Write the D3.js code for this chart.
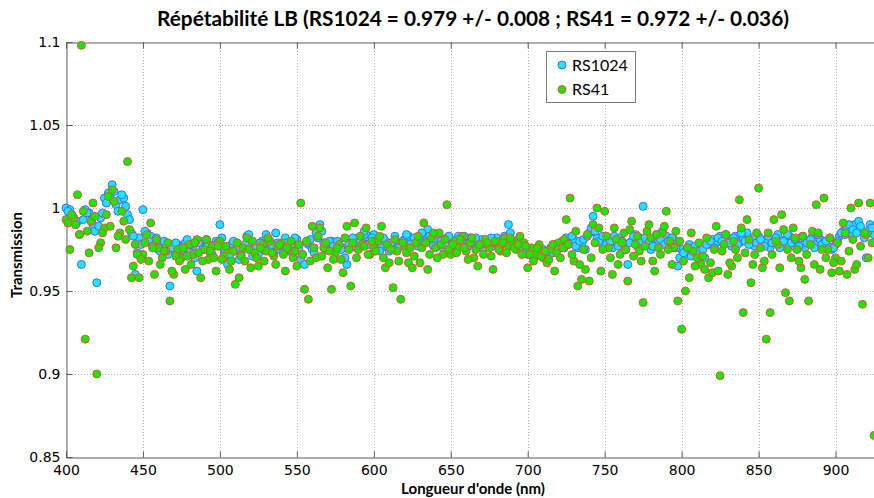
<!DOCTYPE html>
<html><head><meta charset="utf-8">
<script src="https://cdn.jsdelivr.net/npm/d3@7"></script>
<style>body{margin:0;background:#fff}svg{display:block}</style>
</head><body>
<script>
const wavelengths = [400,402.5,405,407.5,410,412.5,415,417.5,420,422.5,
425,427.5,430,432.5,435,437.5,440,442.5,445,447.5,
450,452.5,455,457.5,460,462.5,465,467.5,470,472.5,
475,477.5,480,482.5,485,487.5,490,492.5,495,497.5,
500,502.5,505,507.5,510,512.5,515,517.5,520,522.5,
525,527.5,530,532.5,535,537.5,540,542.5,545,547.5,
550,552.5,555,557.5,560,562.5,565,567.5,570,572.5,
575,577.5,580,582.5,585,587.5,590,592.5,595,597.5,
600,602.5,605,607.5,610,612.5,615,617.5,620,622.5,
625,627.5,630,632.5,635,637.5,640,642.5,645,647.5,
650,652.5,655,657.5,660,662.5,665,667.5,670,672.5,
675,677.5,680,682.5,685,687.5,690,692.5,695,697.5,
700,702.5,705,707.5,710,712.5,715,717.5,720,722.5,
725,727.5,730,732.5,735,737.5,740,742.5,745,747.5,
750,752.5,755,757.5,760,762.5,765,767.5,770,772.5,
775,777.5,780,782.5,785,787.5,790,792.5,795,797.5,
800,802.5,805,807.5,810,812.5,815,817.5,820,822.5,
825,827.5,830,832.5,835,837.5,840,842.5,845,847.5,
850,852.5,855,857.5,860,862.5,865,867.5,870,872.5,
875,877.5,880,882.5,885,887.5,890,892.5,895,897.5,
900,902.5,905,907.5,910,912.5,915,917.5,920,922.5,925];

const rs1024 = [1.000,0.999,0.994,0.992,0.966,0.999,0.997,0.990,0.955,0.994,
1.006,1.009,1.014,1.002,1.005,1.006,0.996,0.985,0.960,0.982,
0.999,0.985,0.983,0.979,0.975,0.977,0.978,0.953,0.975,0.978,
0.976,0.979,0.974,0.977,0.962,0.980,0.976,0.978,0.972,0.980,
0.990,0.975,0.966,0.978,0.974,0.969,0.977,0.983,0.975,0.978,
0.972,0.980,0.984,0.976,0.973,0.979,0.977,0.982,0.974,0.976,
0.981,0.969,0.966,0.978,0.975,0.985,0.990,0.979,0.977,0.980,
0.974,0.978,0.976,0.966,0.980,0.977,0.982,0.979,0.984,0.981,
0.984,0.978,0.976,0.980,0.974,0.977,0.975,0.979,0.981,0.983,
0.978,0.980,0.982,0.984,0.987,0.979,0.981,0.978,0.976,0.982,
0.980,0.977,0.983,0.980,0.978,0.982,0.979,0.976,0.981,0.978,
0.980,0.977,0.982,0.978,0.983,0.990,0.980,0.977,0.979,0.976,
0.972,0.974,0.971,0.973,0.975,0.972,0.976,0.978,0.977,0.980,
0.982,0.979,0.981,0.976,0.978,0.975,0.985,0.995,0.982,0.979,
0.981,0.977,0.976,0.979,0.982,0.978,0.966,0.980,0.984,0.982,
1.001,0.978,0.975,0.982,0.980,0.986,0.983,0.978,0.981,0.965,
0.975,0.972,0.978,0.974,0.976,0.973,0.970,0.978,0.981,0.979,
0.983,0.978,0.981,0.977,0.983,0.979,0.982,0.985,0.980,0.977,
0.983,0.979,0.981,0.976,0.980,0.984,0.978,0.981,0.983,0.977,
0.979,0.982,0.976,0.980,0.983,0.978,0.981,0.979,0.977,0.975,
0.978,0.983,0.986,0.988,0.984,0.990,0.992,0.986,0.970,0.990,0.984];

const rs41 = [0.993,0.975,0.994,1.008,1.098,0.921,0.973,1.003,0.900,0.979,
0.988,1.007,1.011,0.976,0.985,0.992,1.028,0.958,0.978,0.958,
0.972,0.984,0.991,0.960,0.976,0.970,0.974,0.944,0.960,0.975,
0.970,0.963,0.978,0.972,0.981,0.958,0.975,0.969,0.977,0.962,
0.980,0.971,0.975,0.968,0.954,0.958,0.976,0.982,0.964,0.973,
0.965,0.978,0.974,0.980,0.971,0.977,0.979,0.962,0.975,0.970,
0.965,1.003,0.951,0.945,0.989,0.970,0.988,0.976,0.964,0.951,
0.973,0.978,0.961,0.989,0.953,0.991,0.975,0.978,0.988,0.972,
0.976,0.980,0.989,0.964,0.967,0.952,0.974,0.945,0.977,0.967,
0.964,0.979,0.967,0.991,0.963,0.982,0.976,0.985,0.972,1.002,
0.972,0.980,0.976,0.983,0.974,0.979,0.970,0.965,0.978,0.981,
0.976,0.963,0.979,0.974,0.982,0.977,0.980,0.975,0.983,0.979,
0.964,0.976,0.972,0.978,0.970,0.967,0.975,0.962,0.979,0.976,
0.993,1.006,0.968,0.953,0.957,0.963,0.956,0.990,1.000,0.962,
0.998,0.976,0.960,0.981,0.972,0.985,0.956,0.992,0.978,0.974,
0.943,0.986,0.982,0.962,0.976,0.985,0.998,0.980,0.976,0.944,
0.927,0.950,0.958,0.974,0.970,0.966,0.963,0.958,0.961,0.989,
0.899,0.978,0.960,0.965,0.975,1.005,0.937,0.993,0.955,0.972,
1.012,0.964,0.921,0.937,0.993,0.978,0.996,0.949,0.944,0.988,
0.975,0.964,0.957,0.944,0.986,1.002,0.963,1.006,0.975,0.961,
0.970,0.962,0.991,0.960,1.000,0.963,1.003,0.942,0.984,1.003,0.863];

const wavelengthsMid = [401.25,403.75,406.25,408.75,411.25,413.75,416.25,418.75,421.25,423.75,
426.25,428.75,431.25,433.75,436.25,438.75,441.25,443.75,446.25,448.75,
451.25,453.75,456.25,458.75,461.25,463.75,466.25,468.75,471.25,473.75,
476.25,478.75,481.25,483.75,486.25,488.75,491.25,493.75,496.25,498.75,
501.25,503.75,506.25,508.75,511.25,513.75,516.25,518.75,521.25,523.75,
526.25,528.75,531.25,533.75,536.25,538.75,541.25,543.75,546.25,548.75,
551.25,553.75,556.25,558.75,561.25,563.75,566.25,568.75,571.25,573.75,
576.25,578.75,581.25,583.75,586.25,588.75,591.25,593.75,596.25,598.75,
601.25,603.75,606.25,608.75,611.25,613.75,616.25,618.75,621.25,623.75,
626.25,628.75,631.25,633.75,636.25,638.75,641.25,643.75,646.25,648.75,
651.25,653.75,656.25,658.75,661.25,663.75,666.25,668.75,671.25,673.75,
676.25,678.75,681.25,683.75,686.25,688.75,691.25,693.75,696.25,698.75,
701.25,703.75,706.25,708.75,711.25,713.75,716.25,718.75,721.25,723.75,
726.25,728.75,731.25,733.75,736.25,738.75,741.25,743.75,746.25,748.75,
751.25,753.75,756.25,758.75,761.25,763.75,766.25,768.75,771.25,773.75,
776.25,778.75,781.25,783.75,786.25,788.75,791.25,793.75,796.25,798.75,
801.25,803.75,806.25,808.75,811.25,813.75,816.25,818.75,821.25,823.75,
826.25,828.75,831.25,833.75,836.25,838.75,841.25,843.75,846.25,848.75,
851.25,853.75,856.25,858.75,861.25,863.75,866.25,868.75,871.25,873.75,
876.25,878.75,881.25,883.75,886.25,888.75,891.25,893.75,896.25,898.75,
901.25,903.75,906.25,908.75,911.25,913.75,916.25,918.75,921.25,923.75];

const rs1024Mid = [0.998,0.996,0.990,0.984,0.993,0.997,0.992,0.986,0.989,0.997,
1.003,1.007,1.010,0.998,1.008,1.001,0.993,0.983,0.973,0.978,
0.986,0.980,0.977,0.982,0.974,0.980,0.972,0.976,0.979,0.973,
0.975,0.981,0.978,0.970,0.979,0.975,0.981,0.973,0.977,0.979,
0.982,0.974,0.971,0.980,0.976,0.972,0.978,0.984,0.971,0.976,
0.979,0.975,0.981,0.978,0.985,0.975,0.973,0.979,0.977,0.982,
0.975,0.972,0.979,0.981,0.973,0.982,0.986,0.975,0.980,0.977,
0.980,0.975,0.970,0.978,0.982,0.976,0.980,0.986,0.978,0.982,
0.980,0.974,0.982,0.977,0.979,0.983,0.976,0.980,0.984,0.978,
0.982,0.977,0.985,0.980,0.983,0.977,0.984,0.980,0.978,0.983,
0.978,0.981,0.979,0.983,0.977,0.980,0.982,0.978,0.976,0.980,
0.982,0.979,0.976,0.981,0.979,0.985,0.978,0.981,0.975,0.974,
0.973,0.970,0.975,0.972,0.970,0.974,0.973,0.977,0.979,0.976,
0.978,0.983,0.977,0.980,0.981,0.983,0.988,0.986,0.980,0.983,
0.978,0.980,0.983,0.977,0.980,0.975,0.979,0.983,0.977,0.980,
0.982,0.979,0.977,0.984,0.981,0.978,0.980,0.982,0.976,0.970,
0.973,0.976,0.971,0.977,0.974,0.975,0.978,0.980,0.976,0.982,
0.980,0.984,0.979,0.982,0.978,0.985,0.980,0.978,0.982,0.979,
0.981,0.977,0.983,0.979,0.982,0.976,0.980,0.984,0.979,0.981,
0.977,0.983,0.979,0.981,0.976,0.984,0.978,0.980,0.982,0.976,
0.980,0.985,0.984,0.990,0.987,0.985,0.989,0.982,0.986,0.988];

const rs41Mid = [0.991,0.996,0.990,0.984,0.998,0.986,0.992,0.995,0.976,0.985,
0.996,0.989,1.004,0.983,0.998,0.981,0.987,0.965,0.972,0.969,
0.979,0.968,0.976,0.981,0.966,0.974,0.979,0.962,0.971,0.968,
0.976,0.971,0.966,0.979,0.973,0.968,0.981,0.974,0.970,0.977,
0.969,0.977,0.963,0.974,0.979,0.971,0.968,0.975,0.980,0.970,
0.976,0.968,0.982,0.973,0.966,0.978,0.972,0.976,0.980,0.974,
0.978,0.972,0.980,0.968,0.976,0.983,0.971,0.979,0.974,0.969,
0.976,0.969,0.982,0.975,0.979,0.970,0.983,0.977,0.972,0.980,
0.974,0.983,0.970,0.978,0.975,0.981,0.968,0.979,0.973,0.976,
0.971,0.983,0.976,0.979,0.972,0.985,0.970,0.978,0.981,0.975,
0.978,0.973,0.981,0.976,0.969,0.982,0.975,0.978,0.972,0.979,
0.971,0.980,0.975,0.979,0.973,0.982,0.976,0.978,0.972,0.977,
0.972,0.968,0.976,0.971,0.974,0.969,0.978,0.973,0.970,0.981,
0.978,0.972,0.986,0.966,0.975,0.984,0.970,0.979,0.988,0.975,
0.983,0.970,0.988,0.966,0.979,0.975,0.987,0.971,0.983,0.968,
0.977,0.990,0.968,0.984,0.972,0.989,0.975,0.966,0.986,0.980,
0.968,0.976,0.985,0.965,0.979,0.971,0.982,0.967,0.975,0.962,
0.974,0.984,0.967,0.980,0.970,0.988,0.973,0.981,0.966,0.985,
0.976,0.968,0.985,0.972,0.980,0.964,0.987,0.975,0.970,0.982,
0.968,0.983,0.972,0.978,0.966,0.985,0.975,0.970,0.982,0.967,
0.979,0.968,0.985,0.974,0.981,0.966,0.977,0.985,0.970,0.979];

const xTicks = [400,450,500,550,600,650,700,750,800,850,900];
const yTicks = [0.85,0.9,0.95,1,1.05,1.1];
const seriesNames = ["RS1024","RS41"];
const titleText = "Répétabilité LB (RS1024 = 0.979 +/- 0.008 ; RS41 = 0.972 +/- 0.036)";
const xLabel = "Longueur d'onde (nm)";
const yLabel = "Transmission";

const W = 874, H = 498;
const L = 66, R = 874, T = 42, B = 457;
const svg = d3.select("body").append("svg").attr("width", W).attr("height", H);

const x = d3.scaleLinear().domain([400, 925]).range([L, R]);
const y = d3.scaleLinear().domain([0.85, 1.1]).range([B, T]);

// grid
const grid = svg.append("g").attr("stroke", "#b4b4b4").attr("stroke-width", 1).attr("stroke-dasharray", "1,2");
grid.selectAll("line.vx").data(xTicks.slice(1)).join("line")
  .attr("x1", d => Math.round(x(d)) + 0.5).attr("x2", d => Math.round(x(d)) + 0.5)
  .attr("y1", T).attr("y2", B);
grid.selectAll("line.hy").data(yTicks.slice(1, -1)).join("line")
  .attr("x1", L).attr("x2", R)
  .attr("y1", d => Math.round(y(d)) + 0.5).attr("y2", d => Math.round(y(d)) + 0.5);

// axes
const fmt = d3.format("~g");
const gx = svg.append("g").attr("transform", `translate(0,${B + 0.5})`)
  .call(d3.axisBottom(x).tickValues(xTicks).tickSize(-6).tickPadding(10).tickFormat(d3.format("d")));
const gxt = svg.append("g").attr("transform", `translate(0,${T + 0.5})`)
  .call(d3.axisTop(x).tickValues(xTicks).tickSize(-6).tickFormat(""));
const gy = svg.append("g").attr("transform", `translate(${L + 0.5},0)`)
  .call(d3.axisLeft(y).tickValues(yTicks).tickSize(-6).tickPadding(6).tickFormat(fmt));
[gx, gxt, gy].forEach(g => {
  g.select(".domain").attr("stroke", "#5a5a5a");
  g.selectAll(".tick line").attr("stroke", "#5a5a5a");
  g.selectAll("text").attr("fill", "#000").attr("font-family", "DejaVu Sans").attr("font-size", 14);
});
gx.selectAll(".tick text").attr("dy", "0.55em");

// points
const dataA = wavelengths.map((w, i) => [w, rs1024[i]]).concat(wavelengthsMid.map((w, i) => [w, rs1024Mid[i]]));
const dataB = wavelengths.map((w, i) => [w, rs41[i]]).concat(wavelengthsMid.map((w, i) => [w, rs41Mid[i]]));
const pts = svg.append("g");
pts.selectAll("circle.a").data(dataA).join("circle")
  .attr("cx", d => x(d[0])).attr("cy", d => y(d[1])).attr("r", 4)
  .attr("fill", "#1ee4ff").attr("stroke", "#3b6cff").attr("stroke-width", 1);
pts.selectAll("circle.b").data(dataB).join("circle")
  .attr("cx", d => x(d[0])).attr("cy", d => y(d[1])).attr("r", 4)
  .attr("fill", "#12ea00").attr("stroke", "#e2553a").attr("stroke-width", 1);

// legend
const lg = svg.append("g");
lg.append("rect").attr("x", 546.5).attr("y", 51.5).attr("width", 89).attr("height", 51)
  .attr("fill", "#fff").attr("stroke", "#7a7a7a");
const colors = [["#1ee4ff", "#3b6cff"], ["#12ea00", "#e2553a"]];
seriesNames.forEach((n, i) => {
  const cy = 65 + i * 24.5;
  lg.append("circle").attr("cx", 562).attr("cy", cy).attr("r", 4)
    .attr("fill", colors[i][0]).attr("stroke", colors[i][1]);
  lg.append("text").attr("x", 572).attr("y", cy + 5.5).text(n)
    .attr("font-family", "Lato").attr("font-size", 16).attr("fill", "#000");
});

// title & labels
svg.append("text").attr("x", 473).attr("y", 26).attr("text-anchor", "middle")
  .attr("font-family", "Lato").attr("font-weight", "bold").attr("font-size", 20)
  .attr("textLength", 632).attr("lengthAdjust", "spacingAndGlyphs").text(titleText);
svg.append("text").attr("x", 473).attr("y", 494).attr("text-anchor", "middle")
  .attr("font-family", "Lato").attr("font-weight", "bold").attr("font-size", 15)
  .text(xLabel);
svg.append("text").attr("transform", "translate(22,255) rotate(-90)").attr("text-anchor", "middle")
  .attr("font-family", "Lato").attr("font-weight", "bold").attr("font-size", 15)
  .text(yLabel);
</script>
</body></html>
